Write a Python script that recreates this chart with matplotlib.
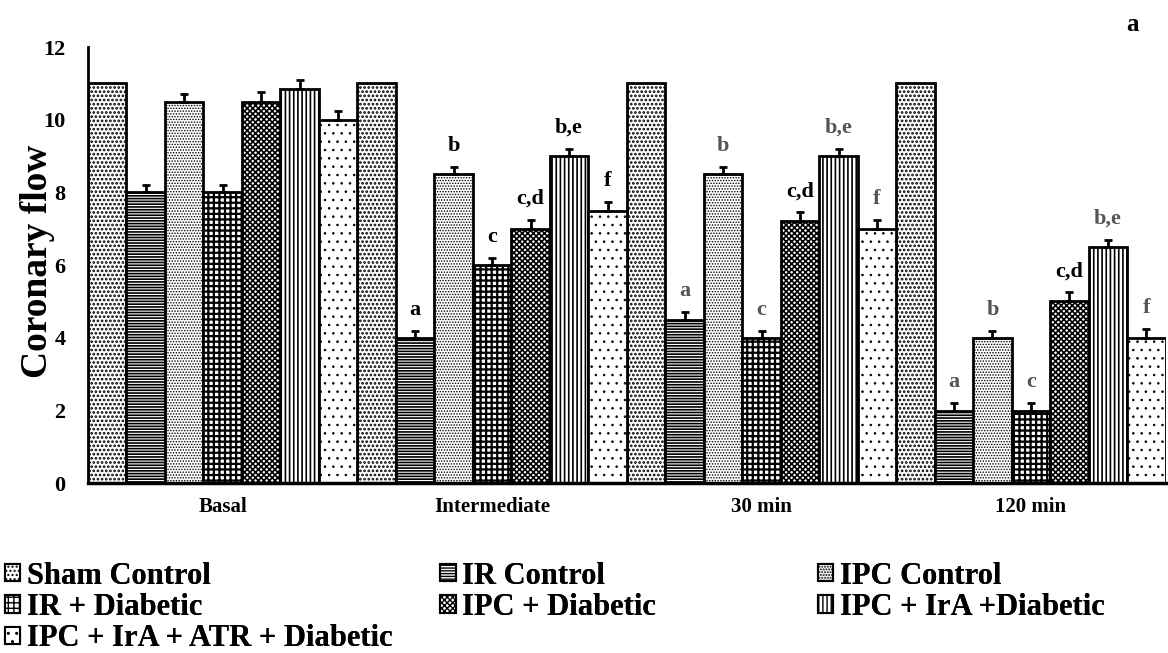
import numpy as np
import matplotlib
matplotlib.use("Agg")
import matplotlib.pyplot as plt
from matplotlib.patches import Patch

plt.rcParams["font.family"] = ["Liberation Serif", "DejaVu Serif"]
plt.rcParams["font.weight"] = "bold"

timepoints = ["Basal", "Intermediate", "30 min", "120 min"]
groups = ["Sham Control", "IR Control", "IPC Control", "IR + Diabetic",
          "IPC + Diabetic", "IPC + IrA +Diabetic", "IPC + IrA + ATR + Diabetic"]

# coronary flow per group, one entry per time point
sham_control = [11.0, 11.0, 11.0, 11.0]
ir_control = [8.0, 4.0, 4.5, 2.0]
ipc_control = [10.5, 8.5, 8.5, 4.0]
ir_diabetic = [8.0, 6.0, 4.0, 2.0]
ipc_diabetic = [10.5, 7.0, 7.2, 5.0]
ipc_ira_diabetic = [10.85, 9.0, 9.0, 6.5]
ipc_ira_atr_diabetic = [10.0, 7.5, 7.0, 4.0]

# standard errors (upper whisker only); sham bars carry none
err_sham = [0.0, 0.0, 0.0, 0.0]
err_ir = [0.2, 0.2, 0.2, 0.2]
err_ipc = [0.2, 0.2, 0.2, 0.2]
err_ir_d = [0.2, 0.2, 0.2, 0.2]
err_ipc_d = [0.25, 0.25, 0.25, 0.25]
err_ipc_ira = [0.25, 0.2, 0.2, 0.2]
err_atr = [0.25, 0.25, 0.25, 0.25]

# significance letters per group and time point
letters_ir = ["", "a", "a", "a"]
letters_ipc = ["", "b", "b", "b"]
letters_ir_d = ["", "c", "c", "c"]
letters_ipc_d = ["", "c,d", "c,d", "c,d"]
letters_ipc_ira = ["", "b,e", "b,e", "b,e"]
letters_atr = ["", "f", "f", "f"]

values = [sham_control, ir_control, ipc_control, ir_diabetic,
          ipc_diabetic, ipc_ira_diabetic, ipc_ira_atr_diabetic]
errors = [err_sham, err_ir, err_ipc, err_ir_d, err_ipc_d, err_ipc_ira, err_atr]
letters = [[""] * 4, letters_ir, letters_ipc, letters_ir_d,
           letters_ipc_d, letters_ipc_ira, letters_atr]

# fill pattern and pattern stroke width for each group
hatches = ["....", "------", "......", "+++", "xxxxxx", "||||", ".."]
hatch_widths = [1.3, 1.2, 0.7, 1.6, 1.2, 1.2, 0.6]

fig = plt.figure(figsize=(11.68, 6.53), dpi=100)
ax = fig.add_axes([0.0753, 0.260, 0.9227, 0.668])

n_groups = len(groups)
base = np.arange(len(timepoints)) * n_groups
handles = []
for gi in range(n_groups):
    x = base + gi
    with plt.rc_context({"hatch.linewidth": hatch_widths[gi]}):
        ax.bar(x, values[gi], width=1.0, facecolor="white", edgecolor="black",
               linewidth=2.0, hatch=hatches[gi], zorder=2)
        handles.append(Patch(facecolor="white", edgecolor="black", linewidth=1.5,
                             hatch=hatches[gi], label=groups[gi]))
    if any(e > 0 for e in errors[gi]):
        ax.errorbar(x, values[gi], yerr=[np.zeros(len(x)), errors[gi]],
                    fmt="none", ecolor="black", elinewidth=2.0, capsize=3,
                    capthick=2.0, zorder=3)
    for ti, lab in enumerate(letters[gi]):
        if lab:
            col = "black" if (ti == 1 or lab == "c,d") else "#555555"
            ax.text(x[ti], values[gi][ti] + errors[gi][ti] + 0.3, lab,
                    ha="center", va="bottom", fontsize=16, fontweight="bold",
                    color=col)

ax.set_xlim(-0.5, len(timepoints) * n_groups - 0.5)
ax.set_ylim(0, 12)
ax.set_yticks(np.arange(0, 13, 2))
ax.set_xticks(base + (n_groups - 1) / 2)
ax.set_xticklabels(timepoints, fontsize=15, fontweight="bold")
ax.tick_params(axis="x", length=0, pad=10)
ax.tick_params(axis="y", length=0, pad=16, labelsize=16)
for lab in ax.get_yticklabels():
    lab.set_fontweight("bold")
ax.spines["top"].set_visible(False)
ax.spines["right"].set_visible(False)
ax.spines["left"].set_linewidth(2.0)
ax.spines["bottom"].set_linewidth(2.5)

fig.text(38 / 1168, 0.600, "Coronary flow", fontsize=27, fontweight="bold",
         rotation=90, ha="center", va="center")
fig.text(0.970, 0.963, "a", fontsize=18, fontweight="bold", ha="center", va="center")

columns = [([0, 3, 6], 0.004), ([1, 4], 0.377), ([2, 5], 0.700)]
for idx, xpos in columns:
    leg = fig.legend([handles[i] for i in idx], [groups[i] for i in idx],
                     loc="upper left", bbox_to_anchor=(xpos, 0.140),
                     frameon=False, prop={"size": 22, "weight": "bold"},
                     handlelength=0.5, handleheight=0.5, handletextpad=0.22,
                     labelspacing=0.08, borderaxespad=0.0, borderpad=0.0)
    fig.add_artist(leg)

fig.savefig("out.png", dpi=100)
